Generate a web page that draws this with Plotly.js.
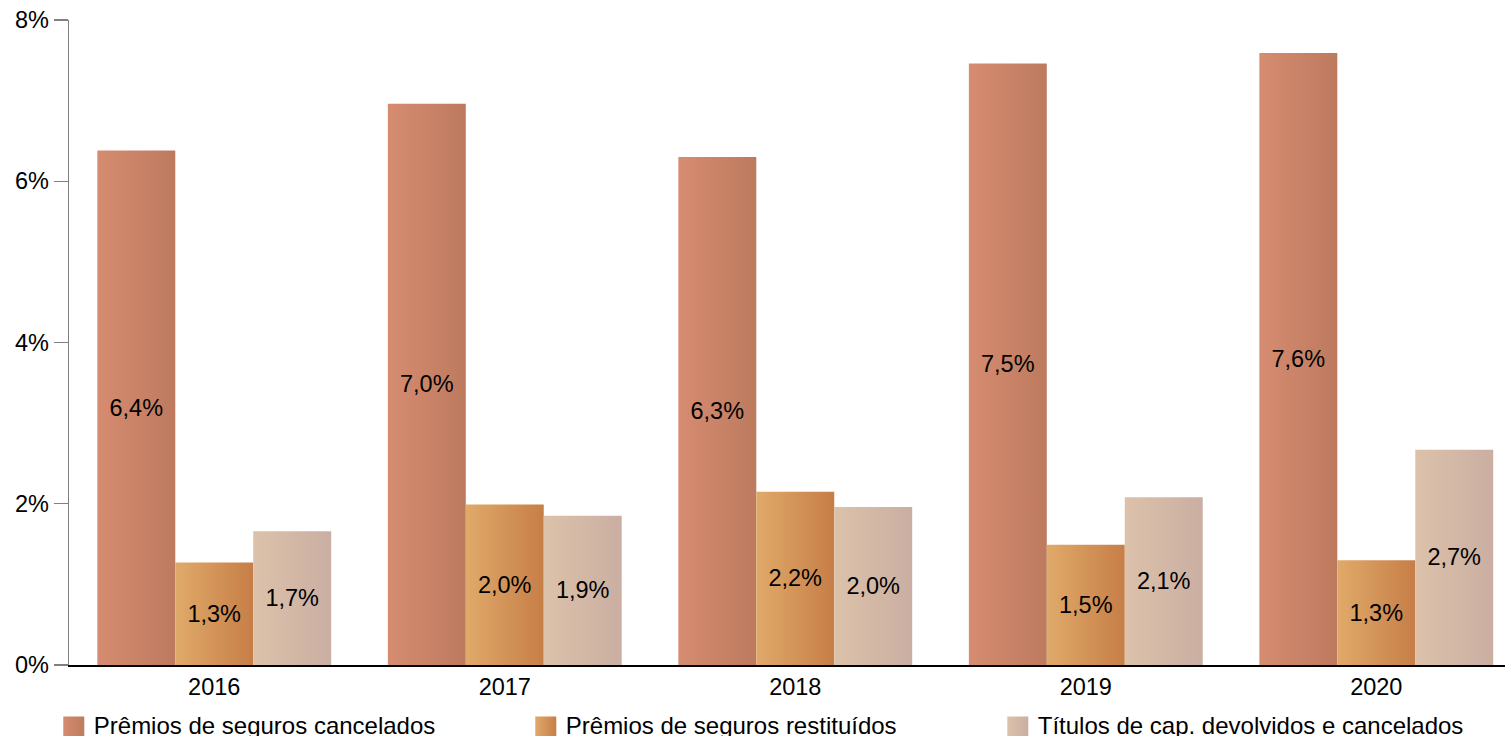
<!DOCTYPE html>
<html>
<head>
<meta charset="utf-8">
<script src="https://cdn.plot.ly/plotly-3.0.1.min.js"></script>
<style>
  html, body { margin: 0; padding: 0; background: #fff; }
  #chart { width: 1505px; height: 736px; }
</style>
</head>
<body>
<div id="chart"></div>
<script>
const years = ['2016', '2017', '2018', '2019', '2020'];
const seriesNames = ['Prêmios de seguros cancelados', 'Prêmios de seguros restituídos', 'Títulos de cap. devolvidos e cancelados'];
const cancelados = [6.38, 6.96, 6.30, 7.46, 7.59];
const restituidos = [1.27, 1.99, 2.15, 1.49, 1.30];
const titulos = [1.66, 1.85, 1.96, 2.08, 2.67];
const labelsCancelados = ['6,4%', '7,0%', '6,3%', '7,5%', '7,6%'];
const labelsRestituidos = ['1,3%', '2,0%', '2,2%', '1,5%', '1,3%'];
const labelsTitulos = ['1,7%', '1,9%', '2,0%', '2,1%', '2,7%'];
const yTickVals = [0, 2, 4, 6, 8];
const yTickText = ['0%', '2%', '4%', '6%', '8%'];

const gradients = [
  ['#D68C70', '#BD7A5F'],
  ['#E0AA6A', '#C67E47'],
  ['#DCC2AA', '#CAAEA2']
];
const FONT = '"Liberation Sans", Arial, sans-serif';
const FS = 23.5;

function mkTrace(name, y, txt, idx) {
  return {
    type: 'bar',
    name: name,
    x: years,
    y: y,
    text: txt,
    textposition: 'inside',
    insidetextanchor: 'middle',
    textangle: 0,
    constraintext: 'none',
    insidetextfont: { family: FONT, size: FS, color: '#000' },
    marker: { color: gradients[idx][0], line: { width: 0 } },
    hoverinfo: 'x+y+name'
  };
}

const data = [
  mkTrace(seriesNames[0], cancelados, labelsCancelados, 0),
  mkTrace(seriesNames[1], restituidos, labelsRestituidos, 1),
  mkTrace(seriesNames[2], titulos, labelsTitulos, 2)
];

const layout = {
  width: 1505,
  height: 736,
  margin: { l: 69, r: 0, t: 20, b: 70.5, pad: 0, autoexpand: false },
  paper_bgcolor: '#fff',
  plot_bgcolor: '#fff',
  font: { family: FONT, size: FS, color: '#000' },
  barmode: 'group',
  bargap: 0.195,
  bargroupgap: 0,
  showlegend: true,
  legend: {
    orientation: 'h',
    x: -0.0106,
    xanchor: 'left',
    y: -0.058,
    yanchor: 'top',
    font: { family: FONT, size: 24, color: '#000' },
    entrywidth: 427,
    entrywidthmode: 'pixels',
    bgcolor: 'rgba(0,0,0,0)',
    traceorder: 'normal'
  },
  xaxis: {
    type: 'category',
    range: [-0.5, 4.443],
    showgrid: false,
    zeroline: false,
    showline: true,
    linecolor: '#000',
    linewidth: 1.5,
    ticks: '',
    tickfont: { family: FONT, size: FS, color: '#000' },
    fixedrange: true,
    automargin: false
  },
  yaxis: {
    range: [0, 8],
    tickvals: yTickVals,
    ticktext: yTickText,
    showgrid: false,
    zeroline: false,
    showline: true,
    linecolor: '#808080',
    linewidth: 1.3,
    ticks: 'outside',
    ticklen: 14,
    tickwidth: 1.3,
    tickcolor: '#808080',
    tickfont: { family: FONT, size: FS, color: '#000' },
    fixedrange: true,
    automargin: false
  }
};

function applyGradients(gd) {
  const svg = gd.querySelector('svg.main-svg');
  if (!svg) return;
  let defs = svg.querySelector('defs#customgrads');
  if (!defs) {
    defs = document.createElementNS('http://www.w3.org/2000/svg', 'defs');
    defs.setAttribute('id', 'customgrads');
    gradients.forEach((g, i) => {
      const lg = document.createElementNS('http://www.w3.org/2000/svg', 'linearGradient');
      lg.setAttribute('id', 'barGrad' + i);
      lg.setAttribute('x1', '0'); lg.setAttribute('y1', '0');
      lg.setAttribute('x2', '1'); lg.setAttribute('y2', '0');
      const s1 = document.createElementNS('http://www.w3.org/2000/svg', 'stop');
      s1.setAttribute('offset', '0'); s1.setAttribute('stop-color', g[0]);
      const s2 = document.createElementNS('http://www.w3.org/2000/svg', 'stop');
      s2.setAttribute('offset', '1'); s2.setAttribute('stop-color', g[1]);
      lg.appendChild(s1); lg.appendChild(s2);
      defs.appendChild(lg);
    });
    svg.insertBefore(defs, svg.firstChild);
  }
  const traces = gd.querySelectorAll('g.barlayer g.trace.bars');
  traces.forEach((t, i) => {
    t.querySelectorAll('g.point path').forEach(p => {
      p.style.fill = 'url(#barGrad' + i + ')';
    });
  });
  const legItems = gd.querySelectorAll('g.legend g.traces');
  legItems.forEach((li, i) => {
    li.querySelectorAll('g.legendpoints path').forEach(p => {
      p.setAttribute('d', 'M10.5,13H-10.5V-8H10.5Z');
      p.style.fill = 'url(#barGrad' + i + ')';
      p.style.strokeWidth = '0';
    });
  });
}

const gd = document.getElementById('chart');
Plotly.newPlot(gd, data, layout, { displayModeBar: false, staticPlot: true }).then(() => {
  applyGradients(gd);
  gd.on('plotly_afterplot', () => applyGradients(gd));
});
</script>
</body>
</html>
